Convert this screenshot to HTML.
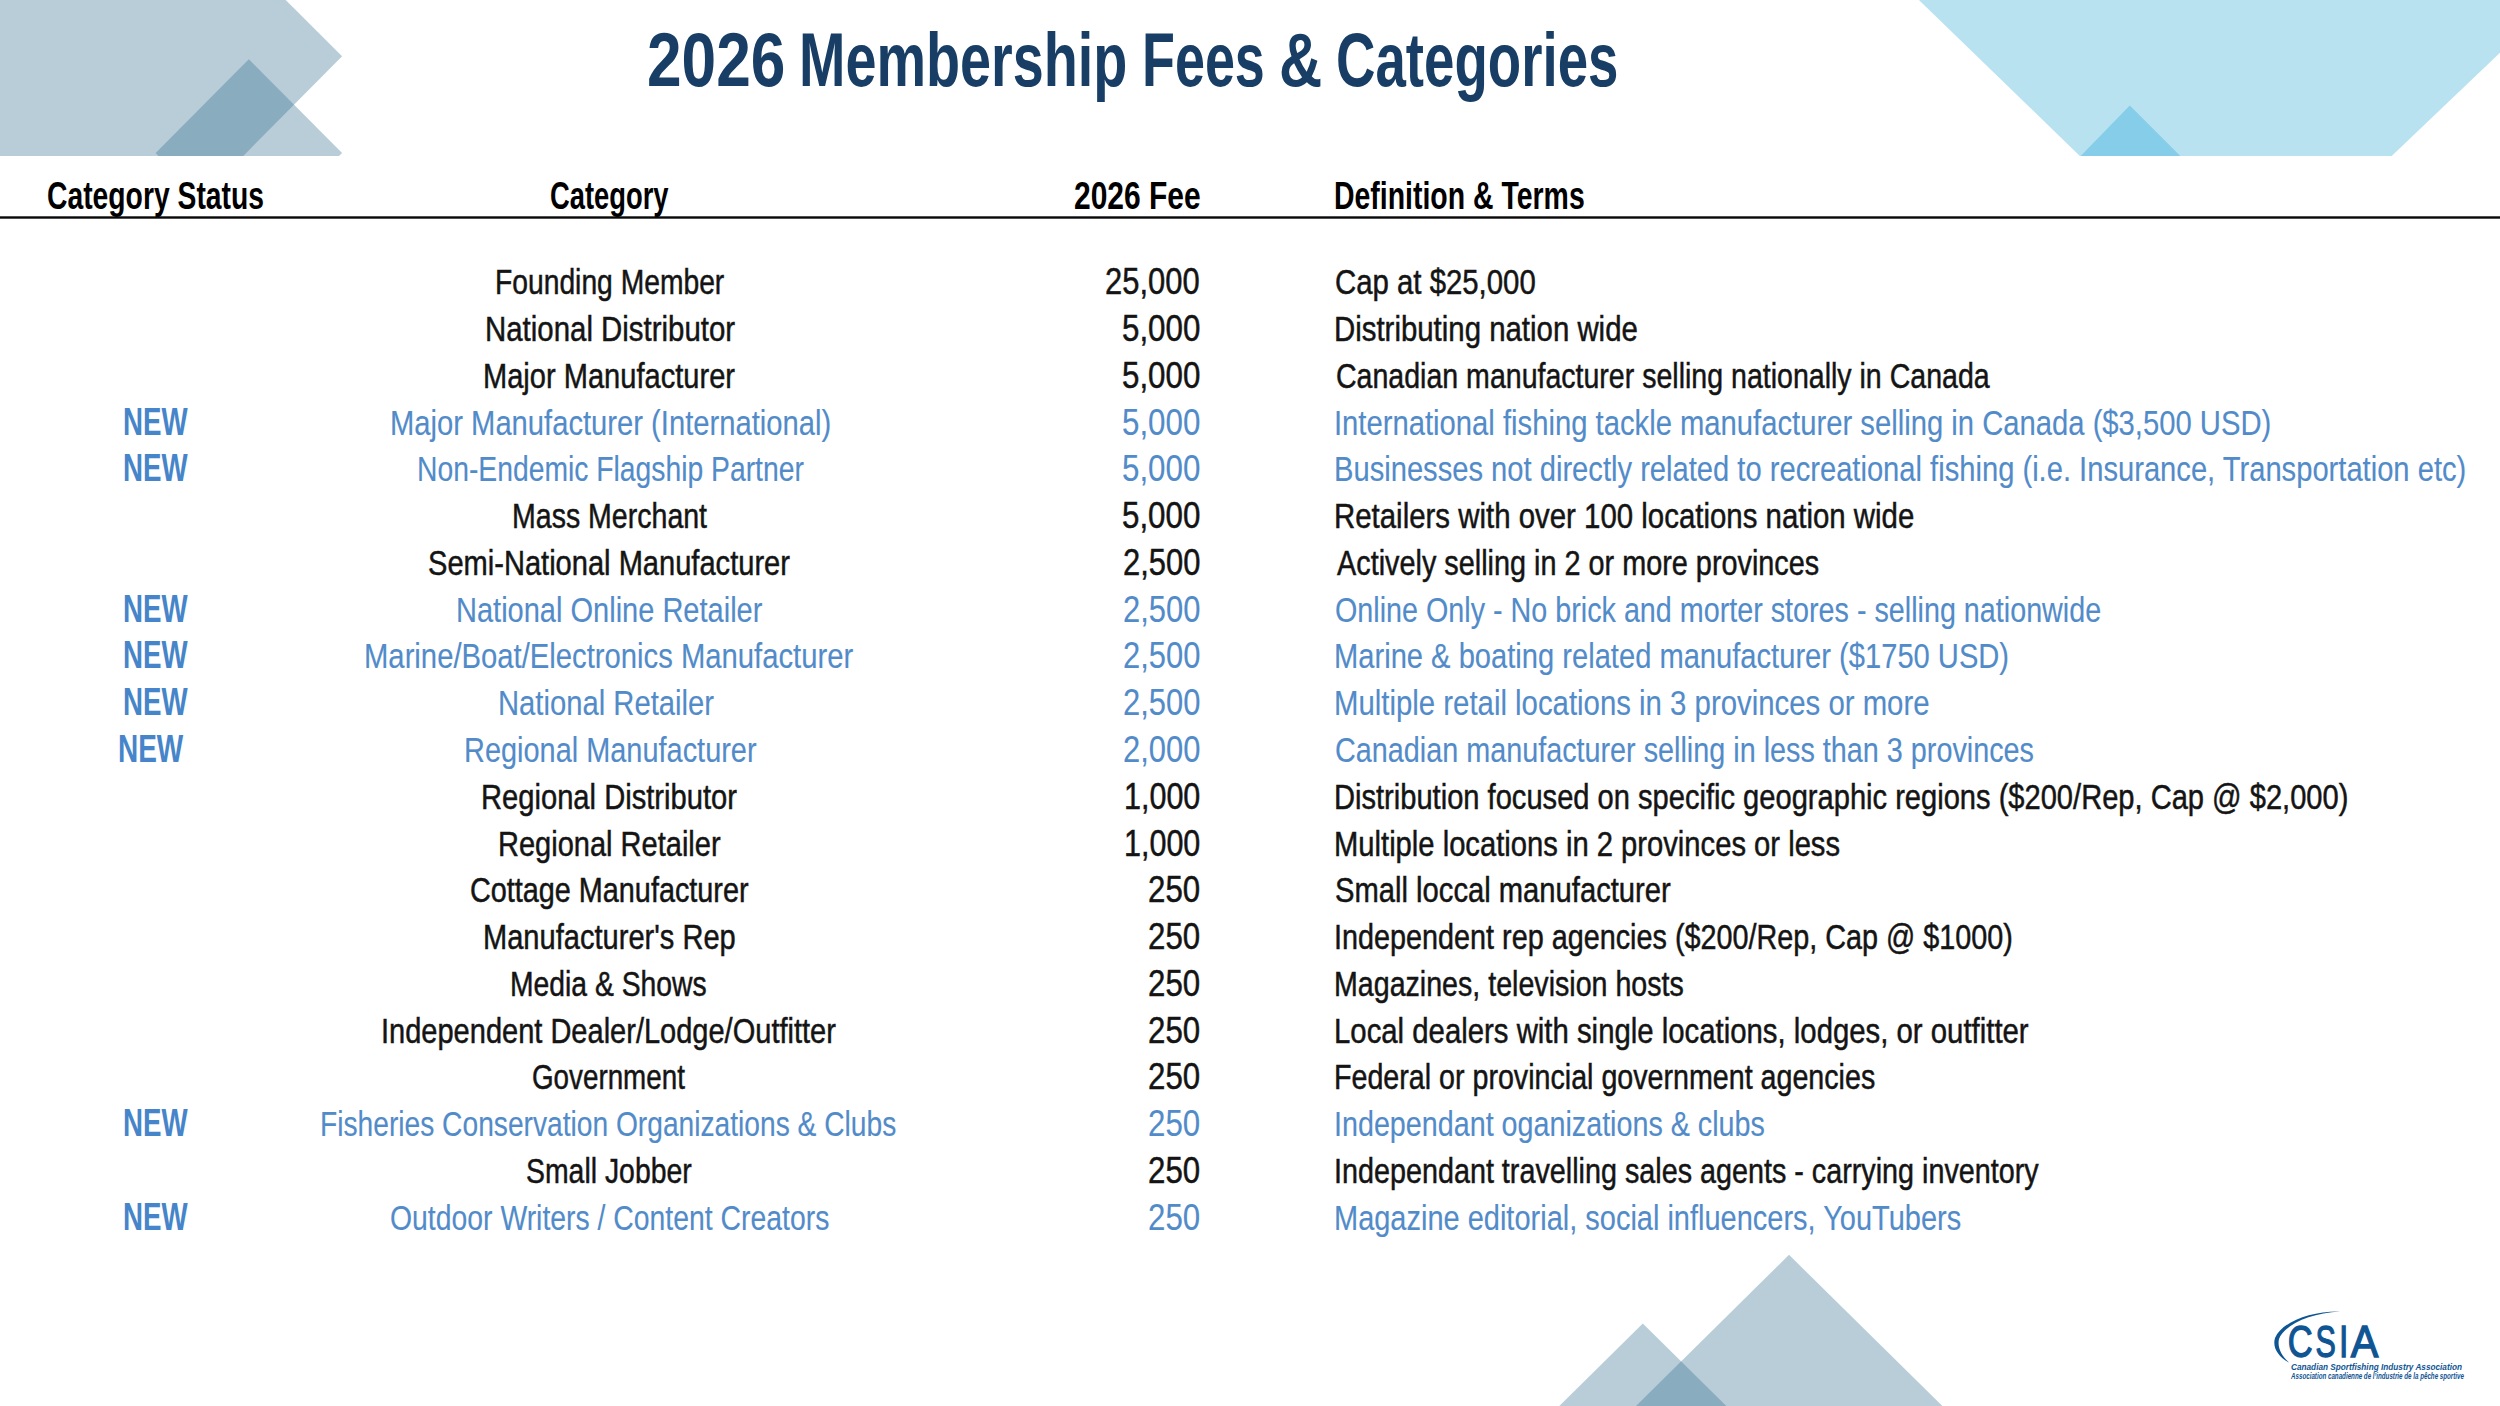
<!DOCTYPE html>
<html><head><meta charset="utf-8"><title>2026 Membership Fees &amp; Categories</title><style>
html,body{margin:0;padding:0;background:#fff}
body{width:2500px;height:1406px;position:relative;overflow:hidden}
.bg{position:absolute;left:0;top:0}
.t{position:absolute;white-space:pre;font-family:"Liberation Sans",sans-serif;line-height:1;transform-origin:0 0}
</style></head><body>
<svg class="bg" width="2500" height="1406" viewBox="0 0 2500 1406">
<g fill="#2d6b8c" fill-opacity="0.338">
<polygon points="0,0 285.7,0 342.1,56.2 243.3,155.9 0,155.9"/>
<polygon points="248.8,59.2 342.1,152.9 339,155.9 158.5,155.9 155.7,152.9"/>
<polygon points="1642.8,1323.5 1726.3,1406 1559.3,1406"/>
<polygon points="1789,1254.8 1942.4,1406 1636,1406"/>
</g>
<polygon fill="#b9e2f1" points="1918.9,0 2500,0 2500,52.8 2391.7,155.9 2079.8,155.9"/>
<polygon fill="#85cde8" points="2129.8,105.6 2180.3,155.9 2080.7,155.9"/>
</svg>
<svg class="bg" width="2500" height="1406"><rect x="0" y="216.3" width="2500" height="2.4" fill="#080808"/></svg>
<div class="t" style="left:646.95px;top:21.9px;font-size:76px;font-weight:700;color:#183e66;transform:scaleX(0.8183)">2026</div>
<div class="t" style="left:798.73px;top:21.9px;font-size:76px;font-weight:700;color:#183e66;transform:scaleX(0.7332)">Membership</div>
<div class="t" style="left:1142.45px;top:21.9px;font-size:76px;font-weight:700;color:#183e66;transform:scaleX(0.7091)">Fees</div>
<div class="t" style="left:1278.65px;top:21.9px;font-size:76px;font-weight:700;color:#183e66;transform:scaleX(0.7877)">&amp;</div>
<div class="t" style="left:1336.2px;top:21.9px;font-size:76px;font-weight:700;color:#183e66;transform:scaleX(0.719)">Categories</div>
<div class="t" style="left:47.27px;top:176.8px;font-size:38px;font-weight:700;color:#000;transform:scaleX(0.7446)">Category Status</div>
<div class="t" style="left:550.0px;top:176.8px;font-size:38px;font-weight:700;color:#000;transform:scaleX(0.72)">Category</div>
<div class="t" style="left:1074.01px;top:176.8px;font-size:38px;font-weight:700;color:#000;transform:scaleX(0.7887)">2026 Fee</div>
<div class="t" style="left:1334.13px;top:176.8px;font-size:38px;font-weight:700;color:#000;transform:scaleX(0.7484)">Definition &amp; Terms</div>
<div class="t" style="left:494.61px;top:265.3px;font-size:35.5px;font-weight:400;color:#141414;-webkit-text-stroke:0.5px currentColor;transform:scaleX(0.7958)">Founding Member</div>
<div class="t" style="left:1105.37px;top:263.3px;font-size:37.5px;font-weight:400;color:#141414;-webkit-text-stroke:0.5px currentColor;transform:scaleX(0.8249)">25,000</div>
<div class="t" style="left:1335.47px;top:265.3px;font-size:35.5px;font-weight:400;color:#141414;-webkit-text-stroke:0.5px currentColor;transform:scaleX(0.8269)">Cap at $25,000</div>
<div class="t" style="left:485.23px;top:312.07px;font-size:35.5px;font-weight:400;color:#141414;-webkit-text-stroke:0.5px currentColor;transform:scaleX(0.8285)">National Distributor</div>
<div class="t" style="left:1121.96px;top:310.07px;font-size:37.5px;font-weight:400;color:#141414;-webkit-text-stroke:0.5px currentColor;transform:scaleX(0.8351)">5,000</div>
<div class="t" style="left:1334.43px;top:312.07px;font-size:35.5px;font-weight:400;color:#141414;-webkit-text-stroke:0.5px currentColor;transform:scaleX(0.8278)">Distributing nation wide</div>
<div class="t" style="left:482.75px;top:358.84px;font-size:35.5px;font-weight:400;color:#141414;-webkit-text-stroke:0.5px currentColor;transform:scaleX(0.8187)">Major Manufacturer</div>
<div class="t" style="left:1121.96px;top:356.84px;font-size:37.5px;font-weight:400;color:#141414;-webkit-text-stroke:0.5px currentColor;transform:scaleX(0.8351)">5,000</div>
<div class="t" style="left:1335.5px;top:358.84px;font-size:35.5px;font-weight:400;color:#141414;-webkit-text-stroke:0.5px currentColor;transform:scaleX(0.8039)">Canadian manufacturer selling nationally in Canada</div>
<div class="t" style="left:122.68px;top:402.61px;font-size:38px;font-weight:700;color:#4685c9;transform:scaleX(0.7281)">NEW</div>
<div class="t" style="left:389.75px;top:405.61px;font-size:35.5px;font-weight:400;color:#528bc9;-webkit-text-stroke:0.15px currentColor;transform:scaleX(0.822)">Major Manufacturer (International)</div>
<div class="t" style="left:1121.96px;top:403.61px;font-size:37.5px;font-weight:400;color:#528bc9;-webkit-text-stroke:0.15px currentColor;transform:scaleX(0.8351)">5,000</div>
<div class="t" style="left:1334.44px;top:405.61px;font-size:35.5px;font-weight:400;color:#528bc9;-webkit-text-stroke:0.15px currentColor;transform:scaleX(0.8232)">International fishing tackle manufacturer selling in Canada ($3,500 USD)</div>
<div class="t" style="left:122.68px;top:449.38px;font-size:38px;font-weight:700;color:#4685c9;transform:scaleX(0.7281)">NEW</div>
<div class="t" style="left:417.01px;top:452.38px;font-size:35.5px;font-weight:400;color:#528bc9;-webkit-text-stroke:0.15px currentColor;transform:scaleX(0.7969)">Non-Endemic Flagship Partner</div>
<div class="t" style="left:1121.96px;top:450.38px;font-size:37.5px;font-weight:400;color:#528bc9;-webkit-text-stroke:0.15px currentColor;transform:scaleX(0.8351)">5,000</div>
<div class="t" style="left:1334.45px;top:452.38px;font-size:35.5px;font-weight:400;color:#528bc9;-webkit-text-stroke:0.15px currentColor;transform:scaleX(0.8209)">Businesses not directly related to recreational fishing (i.e. Insurance, Transportation etc)</div>
<div class="t" style="left:511.79px;top:499.15px;font-size:35.5px;font-weight:400;color:#141414;-webkit-text-stroke:0.5px currentColor;transform:scaleX(0.8038)">Mass Merchant</div>
<div class="t" style="left:1121.96px;top:497.15px;font-size:37.5px;font-weight:400;color:#141414;-webkit-text-stroke:0.5px currentColor;transform:scaleX(0.8351)">5,000</div>
<div class="t" style="left:1334.43px;top:499.15px;font-size:35.5px;font-weight:400;color:#141414;-webkit-text-stroke:0.5px currentColor;transform:scaleX(0.8284)">Retailers with over 100 locations nation wide</div>
<div class="t" style="left:428.48px;top:545.92px;font-size:35.5px;font-weight:400;color:#141414;-webkit-text-stroke:0.5px currentColor;transform:scaleX(0.8189)">Semi-National Manufacturer</div>
<div class="t" style="left:1122.97px;top:543.92px;font-size:37.5px;font-weight:400;color:#141414;-webkit-text-stroke:0.5px currentColor;transform:scaleX(0.8241)">2,500</div>
<div class="t" style="left:1336.5px;top:545.92px;font-size:35.5px;font-weight:400;color:#141414;-webkit-text-stroke:0.5px currentColor;transform:scaleX(0.812)">Actively selling in 2 or more provinces</div>
<div class="t" style="left:122.68px;top:589.69px;font-size:38px;font-weight:700;color:#4685c9;transform:scaleX(0.7281)">NEW</div>
<div class="t" style="left:456.16px;top:592.69px;font-size:35.5px;font-weight:400;color:#528bc9;-webkit-text-stroke:0.15px currentColor;transform:scaleX(0.8172)">National Online Retailer</div>
<div class="t" style="left:1122.97px;top:590.69px;font-size:37.5px;font-weight:400;color:#528bc9;-webkit-text-stroke:0.15px currentColor;transform:scaleX(0.8241)">2,500</div>
<div class="t" style="left:1335.49px;top:592.69px;font-size:35.5px;font-weight:400;color:#528bc9;-webkit-text-stroke:0.15px currentColor;transform:scaleX(0.809)">Online Only - No brick and morter stores - selling nationwide</div>
<div class="t" style="left:122.68px;top:636.46px;font-size:38px;font-weight:700;color:#4685c9;transform:scaleX(0.7281)">NEW</div>
<div class="t" style="left:364.44px;top:639.46px;font-size:35.5px;font-weight:400;color:#528bc9;-webkit-text-stroke:0.15px currentColor;transform:scaleX(0.8238)">Marine/Boat/Electronics Manufacturer</div>
<div class="t" style="left:1122.97px;top:637.46px;font-size:37.5px;font-weight:400;color:#528bc9;-webkit-text-stroke:0.15px currentColor;transform:scaleX(0.8241)">2,500</div>
<div class="t" style="left:1334.45px;top:639.46px;font-size:35.5px;font-weight:400;color:#528bc9;-webkit-text-stroke:0.15px currentColor;transform:scaleX(0.8204)">Marine &amp; boating related manufacturer ($1750 USD)</div>
<div class="t" style="left:122.68px;top:683.23px;font-size:38px;font-weight:700;color:#4685c9;transform:scaleX(0.7281)">NEW</div>
<div class="t" style="left:497.64px;top:686.23px;font-size:35.5px;font-weight:400;color:#528bc9;-webkit-text-stroke:0.15px currentColor;transform:scaleX(0.8231)">National Retailer</div>
<div class="t" style="left:1122.97px;top:684.23px;font-size:37.5px;font-weight:400;color:#528bc9;-webkit-text-stroke:0.15px currentColor;transform:scaleX(0.8241)">2,500</div>
<div class="t" style="left:1334.43px;top:686.23px;font-size:35.5px;font-weight:400;color:#528bc9;-webkit-text-stroke:0.15px currentColor;transform:scaleX(0.8269)">Multiple retail locations in 3 provinces or more</div>
<div class="t" style="left:118.16px;top:730.0px;font-size:38px;font-weight:700;color:#4685c9;transform:scaleX(0.7362)">NEW</div>
<div class="t" style="left:463.66px;top:733.0px;font-size:35.5px;font-weight:400;color:#528bc9;-webkit-text-stroke:0.15px currentColor;transform:scaleX(0.8146)">Regional Manufacturer</div>
<div class="t" style="left:1122.97px;top:731.0px;font-size:37.5px;font-weight:400;color:#528bc9;-webkit-text-stroke:0.15px currentColor;transform:scaleX(0.8241)">2,000</div>
<div class="t" style="left:1335.49px;top:733.0px;font-size:35.5px;font-weight:400;color:#528bc9;-webkit-text-stroke:0.15px currentColor;transform:scaleX(0.8105)">Canadian manufacturer selling in less than 3 provinces</div>
<div class="t" style="left:480.95px;top:779.77px;font-size:35.5px;font-weight:400;color:#141414;-webkit-text-stroke:0.5px currentColor;transform:scaleX(0.8211)">Regional Distributor</div>
<div class="t" style="left:1123.97px;top:777.77px;font-size:37.5px;font-weight:400;color:#141414;-webkit-text-stroke:0.5px currentColor;transform:scaleX(0.8133)">1,000</div>
<div class="t" style="left:1334.45px;top:779.77px;font-size:35.5px;font-weight:400;color:#141414;-webkit-text-stroke:0.5px currentColor;transform:scaleX(0.8195)">Distribution focused on specific geographic regions ($200/Rep, Cap @ $2,000)</div>
<div class="t" style="left:498.36px;top:826.54px;font-size:35.5px;font-weight:400;color:#141414;-webkit-text-stroke:0.5px currentColor;transform:scaleX(0.8174)">Regional Retailer</div>
<div class="t" style="left:1123.97px;top:824.54px;font-size:37.5px;font-weight:400;color:#141414;-webkit-text-stroke:0.5px currentColor;transform:scaleX(0.8133)">1,000</div>
<div class="t" style="left:1334.44px;top:826.54px;font-size:35.5px;font-weight:400;color:#141414;-webkit-text-stroke:0.5px currentColor;transform:scaleX(0.822)">Multiple locations in 2 provinces or less</div>
<div class="t" style="left:469.59px;top:873.31px;font-size:35.5px;font-weight:400;color:#141414;-webkit-text-stroke:0.5px currentColor;transform:scaleX(0.8111)">Cottage Manufacturer</div>
<div class="t" style="left:1148.16px;top:871.31px;font-size:37.5px;font-weight:400;color:#141414;-webkit-text-stroke:0.5px currentColor;transform:scaleX(0.8333)">250</div>
<div class="t" style="left:1335.47px;top:873.31px;font-size:35.5px;font-weight:400;color:#141414;-webkit-text-stroke:0.5px currentColor;transform:scaleX(0.8221)">Small loccal manufacturer</div>
<div class="t" style="left:482.75px;top:920.08px;font-size:35.5px;font-weight:400;color:#141414;-webkit-text-stroke:0.5px currentColor;transform:scaleX(0.8187)">Manufacturer&#x27;s Rep</div>
<div class="t" style="left:1148.16px;top:918.08px;font-size:37.5px;font-weight:400;color:#141414;-webkit-text-stroke:0.5px currentColor;transform:scaleX(0.8333)">250</div>
<div class="t" style="left:1334.47px;top:920.08px;font-size:35.5px;font-weight:400;color:#141414;-webkit-text-stroke:0.5px currentColor;transform:scaleX(0.8108)">Independent rep agencies ($200/Rep, Cap @ $1000)</div>
<div class="t" style="left:510.01px;top:966.85px;font-size:35.5px;font-weight:400;color:#141414;-webkit-text-stroke:0.5px currentColor;transform:scaleX(0.7971)">Media &amp; Shows</div>
<div class="t" style="left:1148.16px;top:964.85px;font-size:37.5px;font-weight:400;color:#141414;-webkit-text-stroke:0.5px currentColor;transform:scaleX(0.8333)">250</div>
<div class="t" style="left:1334.49px;top:966.85px;font-size:35.5px;font-weight:400;color:#141414;-webkit-text-stroke:0.5px currentColor;transform:scaleX(0.8058)">Magazines, television hosts</div>
<div class="t" style="left:381.06px;top:1013.62px;font-size:35.5px;font-weight:400;color:#141414;-webkit-text-stroke:0.5px currentColor;transform:scaleX(0.8173)">Independent Dealer/Lodge/Outfitter</div>
<div class="t" style="left:1148.16px;top:1011.62px;font-size:37.5px;font-weight:400;color:#141414;-webkit-text-stroke:0.5px currentColor;transform:scaleX(0.8333)">250</div>
<div class="t" style="left:1334.43px;top:1013.62px;font-size:35.5px;font-weight:400;color:#141414;-webkit-text-stroke:0.5px currentColor;transform:scaleX(0.8263)">Local dealers with single locations, lodges, or outfitter</div>
<div class="t" style="left:532.12px;top:1060.39px;font-size:35.5px;font-weight:400;color:#141414;-webkit-text-stroke:0.5px currentColor;transform:scaleX(0.7826)">Government</div>
<div class="t" style="left:1148.16px;top:1058.39px;font-size:37.5px;font-weight:400;color:#141414;-webkit-text-stroke:0.5px currentColor;transform:scaleX(0.8333)">250</div>
<div class="t" style="left:1334.48px;top:1060.39px;font-size:35.5px;font-weight:400;color:#141414;-webkit-text-stroke:0.5px currentColor;transform:scaleX(0.8067)">Federal or provincial government agencies</div>
<div class="t" style="left:122.68px;top:1104.16px;font-size:38px;font-weight:700;color:#4685c9;transform:scaleX(0.7281)">NEW</div>
<div class="t" style="left:319.82px;top:1107.16px;font-size:35.5px;font-weight:400;color:#528bc9;-webkit-text-stroke:0.15px currentColor;transform:scaleX(0.7936)">Fisheries Conservation Organizations &amp; Clubs</div>
<div class="t" style="left:1148.16px;top:1105.16px;font-size:37.5px;font-weight:400;color:#528bc9;-webkit-text-stroke:0.15px currentColor;transform:scaleX(0.8333)">250</div>
<div class="t" style="left:1334.48px;top:1107.16px;font-size:35.5px;font-weight:400;color:#528bc9;-webkit-text-stroke:0.15px currentColor;transform:scaleX(0.8085)">Independant oganizations &amp; clubs</div>
<div class="t" style="left:525.9px;top:1153.93px;font-size:35.5px;font-weight:400;color:#141414;-webkit-text-stroke:0.5px currentColor;transform:scaleX(0.8)">Small Jobber</div>
<div class="t" style="left:1148.16px;top:1151.93px;font-size:37.5px;font-weight:400;color:#141414;-webkit-text-stroke:0.5px currentColor;transform:scaleX(0.8333)">250</div>
<div class="t" style="left:1334.48px;top:1153.93px;font-size:35.5px;font-weight:400;color:#141414;-webkit-text-stroke:0.5px currentColor;transform:scaleX(0.8098)">Independant travelling sales agents - carrying inventory</div>
<div class="t" style="left:122.68px;top:1197.7px;font-size:38px;font-weight:700;color:#4685c9;transform:scaleX(0.7281)">NEW</div>
<div class="t" style="left:390.3px;top:1200.7px;font-size:35.5px;font-weight:400;color:#528bc9;-webkit-text-stroke:0.15px currentColor;transform:scaleX(0.7991)">Outdoor Writers / Content Creators</div>
<div class="t" style="left:1148.16px;top:1198.7px;font-size:37.5px;font-weight:400;color:#528bc9;-webkit-text-stroke:0.15px currentColor;transform:scaleX(0.8333)">250</div>
<div class="t" style="left:1334.46px;top:1200.7px;font-size:35.5px;font-weight:400;color:#528bc9;-webkit-text-stroke:0.15px currentColor;transform:scaleX(0.8163)">Magazine editorial, social influencers, YouTubers</div>
<svg class="logo" width="250" height="116" viewBox="2250 1290 250 116" style="position:absolute;left:2250px;top:1290px">
<path d="M2340,1311.5 C2310,1311 2282,1322 2275,1338 C2272,1348 2279,1357 2289,1362.5 C2282,1356 2277,1348 2279,1339 C2284,1325 2310,1313 2340,1311.5 Z" fill="#0f5593"/>
<text transform="translate(2287.63,1357) scale(0.783,1)" font-family="Liberation Sans" font-size="44" fill="#0f5593" stroke="#0f5593" stroke-width="1.3">C</text><text transform="translate(2315.41,1357) scale(0.693,1)" font-family="Liberation Sans" font-size="44" fill="#0f5593" stroke="#0f5593" stroke-width="1.3">S</text><text transform="translate(2339.1,1357) scale(0.767,1)" font-family="Liberation Sans" font-size="44" fill="#0f5593" stroke="#0f5593" stroke-width="1.3">I</text><text transform="translate(2350.8,1357) scale(0.94,1)" font-family="Liberation Sans" font-size="44" fill="#0f5593" stroke="#0f5593" stroke-width="1.3">A</text>
<text x="2291" y="1369.5" font-family="Liberation Sans" font-style="italic" font-weight="700" font-size="8.4" fill="#0f5593" textLength="171" lengthAdjust="spacingAndGlyphs">Canadian Sportfishing Industry Association</text>
<text x="2291" y="1379.1" font-family="Liberation Sans" font-style="italic" font-weight="700" font-size="8.9" fill="#0f5593" textLength="173" lengthAdjust="spacingAndGlyphs">Association canadienne de l’industrie de la pêche sportive</text>
</svg>
</body></html>
